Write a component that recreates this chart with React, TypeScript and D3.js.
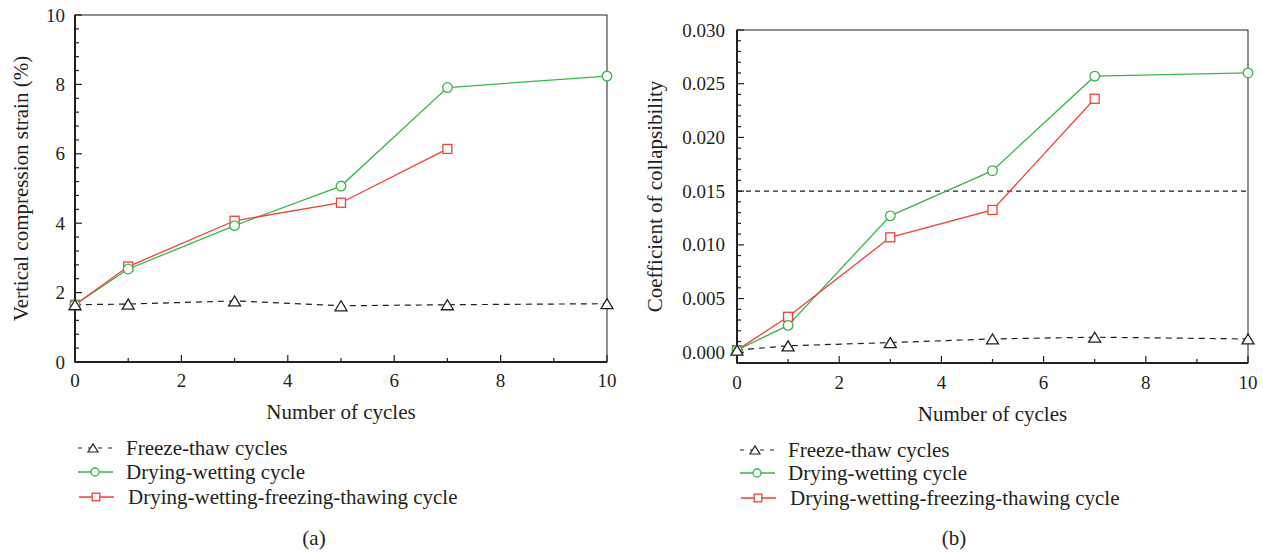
import React from "react";
import * as d3 from "d3";

// ---- data ----
const cycles = [0, 1, 3, 5, 7, 10];
const cyclesDWFT = [0, 1, 3, 5, 7];

const ftStrain = [1.65, 1.67, 1.76, 1.62, 1.65, 1.68];
const dwStrain = [1.65, 2.68, 3.93, 5.07, 7.91, 8.24];
const dwftStrain = [1.65, 2.75, 4.07, 4.59, 6.14];

const ftColl = [0.0002, 0.0006, 0.0009, 0.00124, 0.0014, 0.00124];
const dwColl = [0.0002, 0.0025, 0.0127, 0.0169, 0.0257, 0.026];
const dwftColl = [0.0002, 0.0033, 0.0107, 0.01325, 0.0236];
const collThreshold = 0.015;

const xTicks = [0, 2, 4, 6, 8, 10];
const xMinor = [1, 3, 5, 7, 9];
const yTicksA = [0, 2, 4, 6, 8, 10];
const yTicksB = [0, 0.005, 0.01, 0.015, 0.02, 0.025, 0.03];

const legendLabels = [
  "Freeze-thaw cycles",
  "Drying-wetting cycle",
  "Drying-wetting-freezing-thawing cycle",
];

const TEXT = "#231f20";
const GREEN = "#3ab54a";
const RED = "#ef4136";
const FONT = "Liberation Serif, DejaVu Serif, serif";
const tStyle = { fontFamily: FONT };

type PanelProps = {
  x0: number; x1: number; y0: number; y1: number;
  yDomain: [number, number];
  yTicks: number[];
  yMinor: number[];
  yFmt: (v: number) => string;
  ft: number[]; dw: number[]; dwft: number[];
  threshold?: number;
  yTitle: string; yTitleX: number;
  xTitleY: number; tickLabelY: number; yLabelGap: number;
  legendX: number; legendTextX: number; legendRows: number[];
  panelLabel: string; panelLabelX: number;
};

function tri(x: number, y: number, w: number, h: number) {
  return `M${x - w / 2},${y + h / 2}L${x + w / 2},${y + h / 2}L${x},${y - h / 2}Z`;
}

function Panel(p: PanelProps) {
  const xs = d3.scaleLinear().domain([0, 10]).range([p.x0, p.x1]);
  const ys = d3.scaleLinear().domain(p.yDomain).range([p.y1, p.y0]);
  const line = d3.line<[number, number]>().x((d) => xs(d[0])).y((d) => ys(d[1]));
  const ftPts = cycles.map((c, i) => [c, p.ft[i]] as [number, number]);
  const dwPts = cycles.map((c, i) => [c, p.dw[i]] as [number, number]);
  const dwftPts = cyclesDWFT.map((c, i) => [c, p.dwft[i]] as [number, number]);
  const midX = (p.x0 + p.x1) / 2;
  const [r1, r2, r3] = p.legendRows;
  const lx = p.legendX;
  const mx = lx + 17;
  return (
    <g>
      {/* frame */}
      <rect x={p.x0} y={p.y0} width={p.x1 - p.x0} height={p.y1 - p.y0} fill="none" stroke={TEXT} strokeWidth={1} />
      <line x1={p.x0} x2={p.x0} y1={p.y0} y2={p.y1 + 0.5} stroke={TEXT} strokeWidth={2} />
      <line x1={p.x0} x2={p.x1} y1={p.y1} y2={p.y1} stroke={TEXT} strokeWidth={2} />
      {/* x ticks */}
      {xTicks.map((t) => (
        <g key={"xt" + t}>
          <line x1={xs(t)} x2={xs(t)} y1={p.y1} y2={p.y1 - 7} stroke={TEXT} strokeWidth={1.2} />
          <text x={xs(t)} y={p.tickLabelY} textAnchor="middle" fontSize={19} fill={TEXT} style={tStyle}>{t}</text>
        </g>
      ))}
      {xMinor.map((t) => (
        <line key={"xm" + t} x1={xs(t)} x2={xs(t)} y1={p.y1} y2={p.y1 - 4} stroke={TEXT} strokeWidth={1.2} />
      ))}
      {/* y ticks */}
      {p.yTicks.map((t) => (
        <g key={"yt" + t}>
          <line x1={p.x0} x2={p.x0 + 7} y1={ys(t)} y2={ys(t)} stroke={TEXT} strokeWidth={1.2} />
          <text x={p.x0 - p.yLabelGap} y={ys(t)} dy="0.35em" textAnchor="end" fontSize={19} fill={TEXT} style={tStyle}>{p.yFmt(t)}</text>
        </g>
      ))}
      {p.yMinor.map((t, i) => (
        <line key={"ym" + i} x1={p.x0} x2={p.x0 + 4} y1={ys(t)} y2={ys(t)} stroke={TEXT} strokeWidth={1.2} />
      ))}
      {/* titles */}
      <text x={midX} y={p.xTitleY} textAnchor="middle" fontSize={21} fill={TEXT} style={tStyle}>Number of cycles</text>
      <text transform={`translate(${p.yTitleX},${(p.y0 + p.y1) / 2}) rotate(-90)`} textAnchor="middle" fontSize={21} fill={TEXT} style={tStyle}>{p.yTitle}</text>
      {/* threshold */}
      {p.threshold !== undefined && (
        <line x1={p.x0} x2={p.x1} y1={ys(p.threshold)} y2={ys(p.threshold)} stroke={TEXT} strokeWidth={1.2} strokeDasharray="5,4" />
      )}
      {/* lines */}
      <path d={line(ftPts) || ""} fill="none" stroke={TEXT} strokeWidth={1.2} strokeDasharray="6,5" />
      <path d={line(dwPts) || ""} fill="none" stroke={GREEN} strokeWidth={1.3} />
      <path d={line(dwftPts) || ""} fill="none" stroke={RED} strokeWidth={1.3} />
      {/* markers */}
      {dwftPts.map((d, i) => (
        <rect key={"sq" + i} x={xs(d[0]) - 4.5} y={ys(d[1]) - 4.5} width={9} height={9} fill="white" stroke={RED} strokeWidth={1.3} />
      ))}
      {dwPts.map((d, i) => (
        <circle key={"ci" + i} cx={xs(d[0])} cy={ys(d[1])} r={4.8} fill="white" stroke={GREEN} strokeWidth={1.3} />
      ))}
      {ftPts.map((d, i) => (
        <path key={"tr" + i} d={tri(xs(d[0]), ys(d[1]), 12, 10)} fill="white" stroke={TEXT} strokeWidth={1.3} />
      ))}
      {/* legend */}
      <line x1={lx} x2={lx + 34} y1={r1} y2={r1} stroke={TEXT} strokeWidth={1.2} strokeDasharray="4,6" />
      <path d={tri(mx - 2, r1, 10, 8)} fill="white" stroke={TEXT} strokeWidth={1.2} />
      <text x={p.legendTextX} y={r1} dy="0.32em" fontSize={21} fill={TEXT} style={tStyle}>{legendLabels[0]}</text>
      <line x1={lx} x2={lx + 35} y1={r2} y2={r2} stroke={GREEN} strokeWidth={1.3} />
      <circle cx={mx} cy={r2} r={4} fill="white" stroke={GREEN} strokeWidth={1.3} />
      <text x={p.legendTextX} y={r2} dy="0.32em" fontSize={21} fill={TEXT} style={tStyle}>{legendLabels[1]}</text>
      <line x1={lx + 1} x2={lx + 36} y1={r3} y2={r3} stroke={RED} strokeWidth={1.3} />
      <rect x={mx + 1 - 3.8} y={r3 - 3.8} width={7.6} height={7.6} fill="white" stroke={RED} strokeWidth={1.3} />
      <text x={p.legendTextX + 2} y={r3} dy="0.32em" fontSize={21} fill={TEXT} style={tStyle}>{legendLabels[2]}</text>
      {/* panel label */}
      <text x={p.panelLabelX} y={538} dy="0.35em" textAnchor="middle" fontSize={21} fill={TEXT} style={tStyle}>{p.panelLabel}</text>
    </g>
  );
}

export default function App() {
  const minorA = d3.range(0, 10.001, 0.4).filter((v) => Math.abs(v / 2 - Math.round(v / 2)) > 1e-6);
  const minorB = d3.range(1, 30).filter((v) => v % 5 !== 0).map((v) => v / 1000);
  return (
    <svg width={1263} height={552} style={{ position: "absolute", left: 0, top: 0, background: "white" }}>
      <rect width={1263} height={552} fill="white" />
      <Panel
        x0={75} x1={607} y0={15} y1={362}
        yDomain={[0, 10]} yTicks={yTicksA} yMinor={minorA} yFmt={(v) => String(v)}
        ft={ftStrain} dw={dwStrain} dwft={dwftStrain}
        yTitle="Vertical compression strain (%)" yTitleX={28}
        xTitleY={419} tickLabelY={387} yLabelGap={10}
        legendX={78} legendTextX={126} legendRows={[448, 472, 497]}
        panelLabel="(a)" panelLabelX={314}
      />
      <Panel
        x0={737} x1={1248} y0={30} y1={363}
        yDomain={[-0.001, 0.03]} yTicks={yTicksB} yMinor={minorB} yFmt={(v) => d3.format(".3f")(v)}
        ft={ftColl} dw={dwColl} dwft={dwftColl} threshold={collThreshold}
        yTitle="Coefficient of collapsibility" yTitleX={662}
        xTitleY={421} tickLabelY={389} yLabelGap={12}
        legendX={740} legendTextX={788} legendRows={[450, 473, 498]}
        panelLabel="(b)" panelLabelX={954}
      />
    </svg>
  );
}
